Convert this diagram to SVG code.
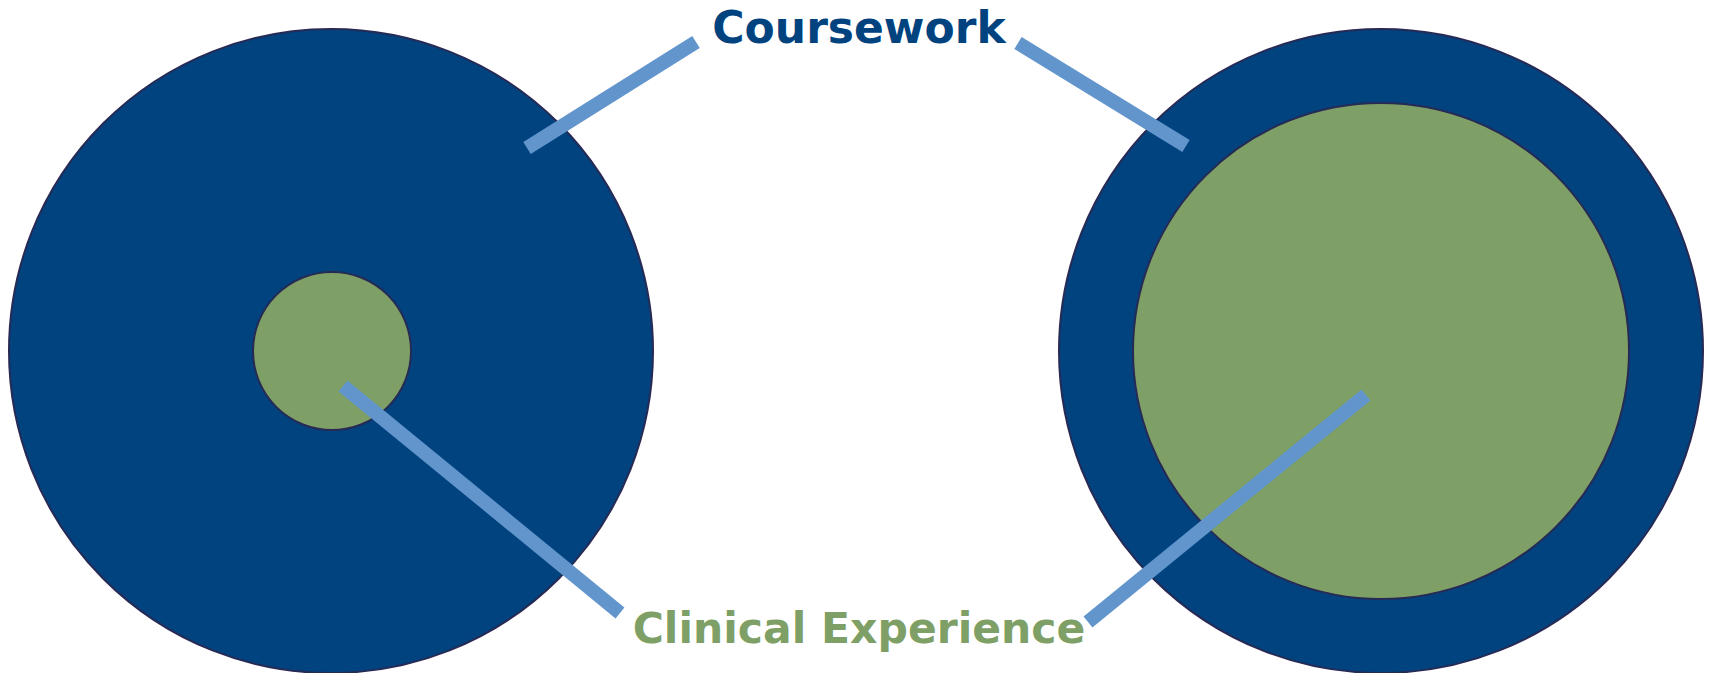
<svg xmlns="http://www.w3.org/2000/svg" width="1710" height="673" viewBox="0 0 1710 673">
<style>
.outer{fill:#00437f;stroke:#262a55;stroke-width:2}
.inner{fill:#7ea066;stroke:#262a55;stroke-width:2}
.conn line{stroke:#6195cc;stroke-width:14}
.lbl{font-family:"DejaVu Sans",Verdana,sans-serif;font-weight:bold;font-size:44px;text-anchor:middle}
</style>
<rect width="1710" height="673" fill="#ffffff"/>
<g id="left-outer"><circle class="outer" cx="331" cy="351" r="322"/></g>
<g id="left-inner"><circle class="inner" cx="332" cy="351" r="79"/></g>
<g id="right-outer"><circle class="outer" cx="1381" cy="351" r="322"/></g>
<g id="right-inner"><circle class="inner" cx="1381" cy="351" r="248"/></g>
<g id="connectors" class="conn">
<line x1="527" y1="148" x2="696" y2="42"/>
<line x1="1018" y1="43" x2="1186" y2="146"/>
<line x1="343" y1="386" x2="620" y2="613"/>
<line x1="1088" y1="622" x2="1366" y2="395"/>
</g>
<g id="label-coursework"><text class="lbl" x="859" y="43" fill="#00437f">Coursework</text></g>
<g id="label-clinical"><text class="lbl" x="859" y="643" fill="#7ea066" style="font-size:42.5px">Clinical Experience</text></g>
</svg>
